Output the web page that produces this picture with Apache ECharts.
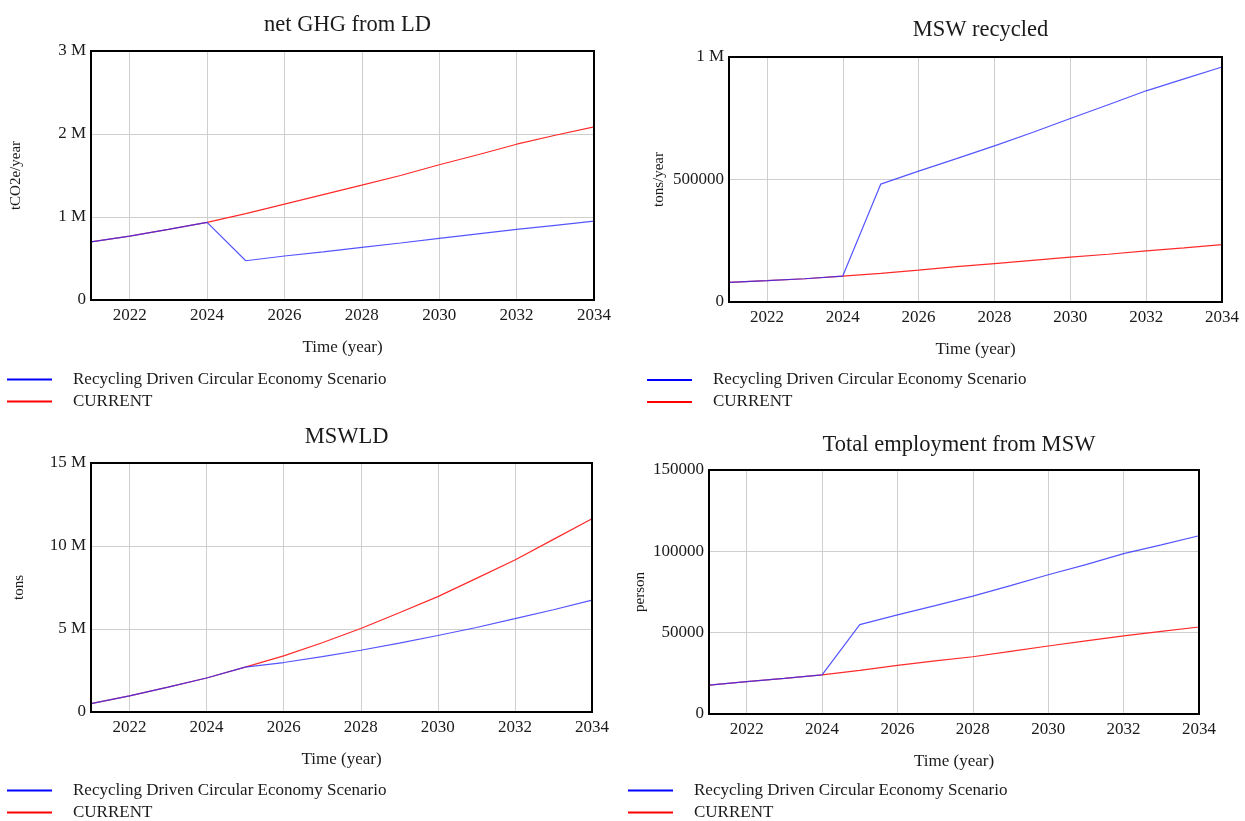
<!DOCTYPE html>
<html>
<head>
<meta charset="utf-8">
<script src="https://cdn.jsdelivr.net/npm/echarts@6/dist/echarts.min.js"></script>
<style>
html,body{margin:0;padding:0;background:#fff;}
#c{width:1245px;height:821px;}
</style>
</head>
<body>
<div id="c"></div>
<script>
// ---- data ----
var years = [2021, 2022, 2023, 2024, 2025, 2026, 2027, 2028, 2029, 2030, 2031, 2032, 2033, 2034];
var scenarioName = 'Recycling Driven Circular Economy Scenario';
var currentName = 'CURRENT';

var titles = ['net GHG from LD', 'MSW recycled', 'MSWLD', 'Total employment from MSW'];
var yUnits = ['tCO2e/year', 'tons/year', 'tons', 'person'];
var xName = 'Time (year)';

var ghgScenario = [700000, 770000, 850000, 935000, 473000, 530000, 580000, 634000, 687000, 742000, 797000, 850000, 900000, 950000];
var ghgCurrent  = [700000, 770000, 850000, 935000, 1040000, 1155000, 1270000, 1384000, 1500000, 1630000, 1750000, 1877000, 1985000, 2086000];

var recScenario = [80000, 87000, 95000, 106000, 481000, 534000, 585000, 637000, 692000, 749000, 805000, 862000, 911000, 959000];
var recCurrent  = [80000, 87000, 95000, 106000, 117000, 130000, 144000, 157000, 170000, 183000, 195000, 209000, 221000, 234000];

var lfScenario = [500000, 970000, 1500000, 2050000, 2700000, 2980000, 3340000, 3720000, 4150000, 4610000, 5090000, 5620000, 6160000, 6740000];
var lfCurrent  = [500000, 970000, 1500000, 2050000, 2700000, 3380000, 4170000, 5030000, 5980000, 6950000, 8050000, 9160000, 10400000, 11640000];

var empScenario = [17800, 19900, 21900, 24000, 54900, 60900, 66600, 72500, 78900, 85600, 91800, 98600, 104000, 109600];
var empCurrent  = [17800, 19900, 21900, 24000, 26800, 29900, 32600, 35200, 38500, 41800, 44900, 48000, 50800, 53500];

var yMax = [3000000, 1000000, 15000000, 150000];
var yStep = [1000000, 500000, 5000000, 50000];

var scenarioSeries = [ghgScenario, recScenario, lfScenario, empScenario];
var currentSeries = [ghgCurrent, recCurrent, lfCurrent, empCurrent];

// ---- layout ----
var grids = [
  {left: 91, top: 51, width: 503, height: 249},
  {left: 729, top: 57, width: 493, height: 245},
  {left: 91, top: 463, width: 501, height: 249},
  {left: 709, top: 470, width: 490, height: 244}
];
var legendPos = [
  {left: 7, top: 371},
  {left: 647, top: 371.5},
  {left: 7, top: 782},
  {left: 628, top: 782}
];
var titlePos = [8.5, 13.5, 420.5, 428.5];
var yNameGap = [67.5, 62.5, 64.5, 61.5];

var FONT = 'Liberation Serif';
var TXT = '#1a1a1a';

function fmtM(v) {
  if (v === 0) return '0';
  if (v >= 1000000) return (v / 1000000) + ' M';
  return String(v);
}
function fmtPlain(v) { return String(v); }
var yFormatters = [fmtM, fmtM, fmtM, fmtPlain];

var option = {
  backgroundColor: '#ffffff',
  animation: false,
  title: [], grid: [], xAxis: [], yAxis: [], series: [], legend: []
};

for (var i = 0; i < 4; i++) {
  var g = grids[i];
  option.grid.push({
    left: g.left, top: g.top, width: g.width, height: g.height,
    show: true, borderColor: '#000', borderWidth: 2, backgroundColor: 'transparent',
    containLabel: false, outerBoundsMode: 'none', z: 5
  });
  option.title.push({
    text: titles[i],
    left: g.left + g.width / 2, top: titlePos[i],
    textAlign: 'center',
    textStyle: {fontFamily: FONT, fontSize: 22.5, fontWeight: 'normal', color: TXT}
  });
  option.xAxis.push({
    type: 'value', gridIndex: i, min: 2021, max: 2034, splitNumber: 7,
    name: xName, nameLocation: 'middle', nameGap: 39,
    nameTextStyle: {fontFamily: FONT, fontSize: 17, color: TXT},
    axisLine: {show: true, onZero: false, lineStyle: {color: '#000', width: 2}},
    axisTick: {show: false},
    axisLabel: {fontFamily: FONT, fontSize: 17, color: TXT, margin: 7,
      formatter: function (v) { return v === 2021 ? '' : String(v); }},
    splitLine: {show: true, showMinLine: false, showMaxLine: false, lineStyle: {color: '#cfcfcf', width: 1}}
  });
  option.yAxis.push({
    type: 'value', gridIndex: i, min: 0, max: yMax[i], interval: yStep[i],
    name: yUnits[i], nameLocation: 'middle', nameGap: yNameGap[i], nameRotate: 90,
    nameTextStyle: {fontFamily: FONT, fontSize: 15, color: TXT},
    axisLine: {show: true, onZero: false, lineStyle: {color: '#000', width: 2}},
    axisTick: {show: false},
    axisLabel: {fontFamily: FONT, fontSize: 17, color: TXT, margin: 5, formatter: yFormatters[i]},
    splitLine: {show: true, showMinLine: false, showMaxLine: false, lineStyle: {color: '#cfcfcf', width: 1}}
  });
  var sc = scenarioSeries[i], cu = currentSeries[i];
  var cuData = [], scData = [];
  for (var k = 0; k < years.length; k++) {
    cuData.push([years[k], cu[k]]);
    scData.push([years[k], sc[k]]);
  }
  option.series.push({
    name: currentName, type: 'line', xAxisIndex: i, yAxisIndex: i,
    data: cuData, showSymbol: false, symbol: 'none', z: 3,
    color: '#ff0000', lineStyle: {color: '#ff2a2a', width: 1.2}
  });
  option.series.push({
    name: scenarioName, type: 'line', xAxisIndex: i, yAxisIndex: i,
    data: scData, showSymbol: false, symbol: 'none', z: 4,
    color: '#0000ff', lineStyle: {color: '#2a2aff', width: 1.2, opacity: 0.8}
  });
  option.legend.push({
    left: legendPos[i].left, top: legendPos[i].top, height: 80, padding: 0,
    orient: 'vertical', icon: 'rect', itemWidth: 45, itemHeight: 2, itemGap: 5,
    selectedMode: false,
    data: [
      {name: scenarioName, itemStyle: {color: '#0000ff'}},
      {name: currentName, itemStyle: {color: '#ff0000'}}
    ],
    textStyle: {fontFamily: FONT, fontSize: 17, color: TXT, padding: [0, 0, 0, 16]}
  });
}

var chart = echarts.init(document.getElementById('c'), null, {renderer: 'canvas'});
chart.setOption(option);
</script>
</body>
</html>
